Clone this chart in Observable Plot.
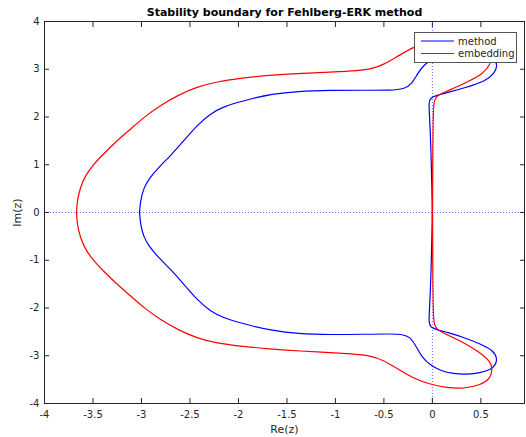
<!DOCTYPE html>
<html>
<head>
<meta charset="utf-8">
<script src="https://cdn.jsdelivr.net/npm/d3@7"></script>
<script src="https://cdn.jsdelivr.net/npm/@observablehq/plot@0.6"></script>
<style>
  body { margin: 0; background: white; }
  #wrap { position: relative; width: 526px; height: 437px; font-family: "DejaVu Sans", sans-serif; }
  #legend { position: absolute; left: 414px; top: 32px; }
</style>
</head>
<body>
<div id="wrap"></div>
<script>
const title = "Stability boundary for Fehlberg-ERK method";
const xLabel = "Re(z)";
const yLabel = "Im(z)";
const seriesNames = ["method", "embedding"];
const seriesColors = ["#0000ff", "#ff0000"];
const xTicks = [-4, -3.5, -3, -2.5, -2, -1.5, -1, -0.5, 0, 0.5];
const yTicks = [-4, -3, -2, -1, 0, 1, 2, 3, 4];

// "method" boundary (blue)
const methodRe = [
  -3.02, -3.01, -2.98, -2.92, -2.82, -2.70, -2.56, -2.43, -2.29, -2.15,
  -1.98, -1.87, -1.66, -1.39, -1.05, -0.71, -0.43, -0.29, -0.21, -0.16,
  -0.11, -0.03, 0.08, 0.22, 0.36, 0.49, 0.60, 0.65, 0.67, 0.64,
  0.56, 0.32, 0.15, 0.04, -0.02, -0.038, -0.03, -0.015, -0.005, 0.0,
  -0.005, -0.015, -0.03, -0.038, -0.02, 0.04, 0.15, 0.32, 0.49, 0.63,
  0.67, 0.65, 0.60, 0.49, 0.36, 0.22, 0.08, -0.02, -0.11, -0.17,
  -0.23, -0.29, -0.43, -0.71, -1.05, -1.39, -1.66, -1.87, -1.98, -2.15,
  -2.29, -2.43, -2.56, -2.70, -2.82, -2.92, -2.98, -3.01, -3.02
];
const methodIm = [
  0.00, 0.25, 0.50, 0.72, 0.95, 1.19, 1.51, 1.82, 2.07, 2.22,
  2.32, 2.38, 2.48, 2.54, 2.56, 2.56, 2.56, 2.58, 2.70, 2.88,
  3.04, 3.18, 3.31, 3.38, 3.39, 3.36, 3.29, 3.20, 3.06, 2.92,
  2.76, 2.60, 2.51, 2.45, 2.40, 2.30, 2.07, 1.37, 0.50, 0.00,
  -0.50, -1.37, -2.07, -2.30, -2.40, -2.45, -2.51, -2.61, -2.75, -2.89,
  -3.06, -3.20, -3.29, -3.36, -3.39, -3.38, -3.31, -3.20, -3.03, -2.79,
  -2.61, -2.56, -2.54, -2.55, -2.56, -2.54, -2.47, -2.37, -2.31, -2.21,
  -2.07, -1.82, -1.51, -1.19, -0.95, -0.72, -0.50, -0.25, 0.00
];

// "embedding" boundary (red)
const embedRe = [
  -3.67, -3.663, -3.63, -3.58, -3.49, -3.39, -3.25, -3.11, -2.96, -2.80,
  -2.62, -2.43, -2.22, -1.98, -1.73, -1.39, -1.05, -0.76, -0.62, -0.50,
  -0.36, -0.19, -0.02, 0.15, 0.32, 0.49, 0.60, 0.62, 0.60, 0.53,
  0.36, 0.15, 0.05, 0.02, 0.01, 0.005, 0.0,
  0.005, 0.01, 0.02, 0.05, 0.15, 0.32, 0.49, 0.60, 0.62, 0.60,
  0.49, 0.32, 0.15, -0.02, -0.19, -0.36, -0.50, -0.64, -0.88, -1.39,
  -1.73, -1.98, -2.22, -2.43, -2.62, -2.80, -2.96, -3.11, -3.25, -3.39,
  -3.49, -3.58, -3.63, -3.663, -3.67
];
const embedIm = [
  0.00, 0.25, 0.53, 0.77, 1.02, 1.23, 1.51, 1.75, 2.02, 2.25,
  2.46, 2.63, 2.74, 2.81, 2.87, 2.91, 2.94, 2.97, 3.01, 3.10,
  3.27, 3.47, 3.60, 3.67, 3.69, 3.62, 3.48, 3.27, 3.12, 2.91,
  2.73, 2.54, 2.46, 2.35, 2.20, 1.50, 0.00,
  -1.50, -2.20, -2.35, -2.46, -2.56, -2.72, -2.93, -3.13, -3.27, -3.48,
  -3.62, -3.69, -3.67, -3.60, -3.48, -3.27, -3.10, -2.99, -2.95, -2.90,
  -2.85, -2.80, -2.74, -2.63, -2.46, -2.25, -2.02, -1.75, -1.51, -1.23,
  -1.02, -0.77, -0.53, -0.25, 0.00
];

const toPts = (re, im) => re.map((x, i) => ({x, y: im[i]}));
const method = toPts(methodRe, methodIm);
const embed = toPts(embedRe, embedIm);
const fmt = d => String(d);
const axisColor = "#262626";

const chart = Plot.plot({
  width: 526,
  height: 437,
  marginLeft: 44,
  marginRight: 2,
  marginTop: 21,
  marginBottom: 34,
  x: {domain: [-4, 0.95]},
  y: {domain: [-4, 4]},
  style: {fontFamily: "DejaVu Sans", fontSize: "10px", color: axisColor, background: "white"},
  marks: [
    Plot.ruleX([0], {stroke: seriesColors[0], strokeDasharray: "1,2", strokeOpacity: 0.6}),
    Plot.ruleY([0], {stroke: seriesColors[0], strokeDasharray: "1,2", strokeOpacity: 0.6}),
    Plot.line(method, {x: "x", y: "y", stroke: seriesColors[0], strokeWidth: 1.2, curve: "basis"}),
    Plot.line(embed, {x: "x", y: "y", stroke: seriesColors[1], strokeWidth: 1.2, curve: "basis"}),
    Plot.frame({stroke: axisColor}),
    Plot.axisX(xTicks, {anchor: "bottom", tickSize: -5, tickPadding: 12, tickFormat: fmt, label: null, stroke: axisColor}),
    Plot.axisX(xTicks, {anchor: "top", tickSize: -5, tickFormat: () => "", label: null, stroke: axisColor}),
    Plot.axisY(yTicks, {anchor: "left", tickSize: -5, tickPadding: 10, tickFormat: fmt, label: null, stroke: axisColor}),
    Plot.axisY(yTicks, {anchor: "right", tickSize: -5, tickFormat: () => "", label: null, stroke: axisColor}),
    Plot.text([title], {text: d => d, frameAnchor: "top", lineAnchor: "middle", dy: -9, fontWeight: "bold", fontSize: 11, fill: "black"}),
    Plot.text([xLabel], {text: d => d, frameAnchor: "bottom", lineAnchor: "middle", dy: 26, fontSize: 11, fill: axisColor}),
    Plot.text([yLabel], {text: d => d, frameAnchor: "left", textAnchor: "middle", lineAnchor: "middle", dx: -27, rotate: -90, fontSize: 11, fill: axisColor})
  ]
});

const wrap = document.getElementById("wrap");
wrap.appendChild(chart);

// legend box (top right, drawn over the curves like the original)
const NS = "http://www.w3.org/2000/svg";
const lg = document.createElementNS(NS, "svg");
lg.setAttribute("id", "legend");
lg.setAttribute("width", 103);
lg.setAttribute("height", 31);
const box = document.createElementNS(NS, "rect");
box.setAttribute("x", 0.5); box.setAttribute("y", 0.5);
box.setAttribute("width", 102); box.setAttribute("height", 30);
box.setAttribute("fill", "white"); box.setAttribute("stroke", "#555");
lg.appendChild(box);
seriesNames.forEach((name, i) => {
  const yy = 9 + i * 12.5;
  const ln = document.createElementNS(NS, "line");
  ln.setAttribute("x1", 7); ln.setAttribute("x2", 40);
  ln.setAttribute("y1", yy); ln.setAttribute("y2", yy);
  ln.setAttribute("stroke", seriesColors[i]);
  ln.setAttribute("stroke-width", 1.2);
  lg.appendChild(ln);
  const t = document.createElementNS(NS, "text");
  t.setAttribute("x", 44); t.setAttribute("y", yy);
  t.setAttribute("dy", "0.35em");
  t.setAttribute("font-size", 10);
  t.setAttribute("font-family", "DejaVu Sans");
  t.setAttribute("fill", axisColor);
  t.textContent = name;
  lg.appendChild(t);
});
wrap.appendChild(lg);
</script>
</body>
</html>
